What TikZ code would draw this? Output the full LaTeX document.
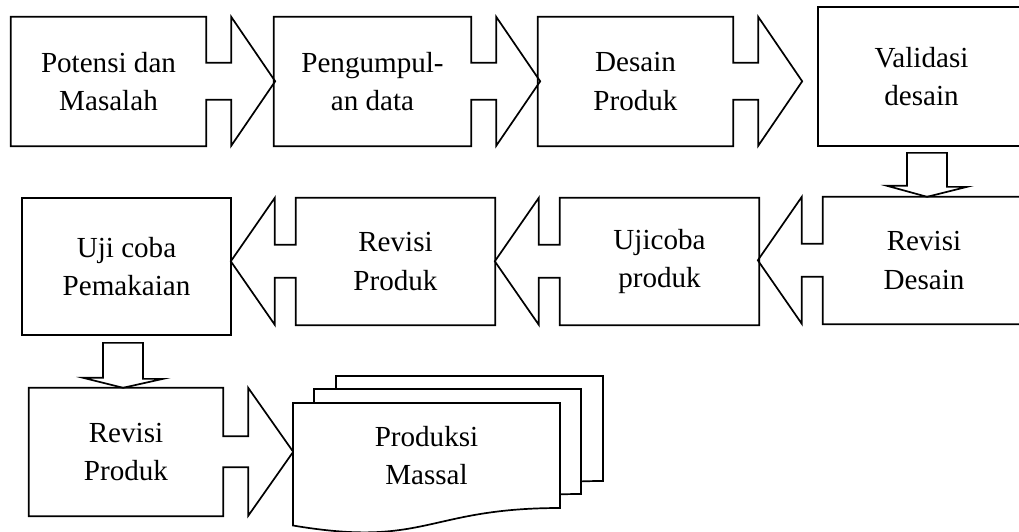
\documentclass[tikz,border=0pt]{standalone}
\usepackage{fontspec}
\setmainfont{Liberation Serif}
\usetikzlibrary{calc}

\begin{document}
\begin{tikzpicture}[x=1pt, y=-1pt,
    stagebox/.style={minimum width=195pt, minimum height=129pt, inner sep=0pt, align=center,
      font=\fontsize{29.1}{38.3}\selectfont},
    outline/.style={draw=black, line width=1.7pt, line join=miter}]
    \useasboundingbox (0,0) rectangle (1019,531);
    \clip (0,0) rectangle (1019,531);
    \fill[white] (0,0) rectangle (1019,531);

    \node[stagebox] (potensi) at (108.5,81.5) {Potensi dan\\Masalah};
    \node[stagebox, minimum width=197pt] (pengumpulan) at (372.5,81.5) {Pengumpul-\\an data};
    \node[stagebox] (desain) at (635.5,81.5) {Desain\\Produk};
    \node[stagebox, outline, minimum width=207pt, minimum height=139pt] (validasi) at (921.5,76.5) {Validasi\\desain};

    \foreach \n in {potensi, pengumpulan, desain}
        \draw[outline] (\n.north west) -- (\n.north east) -- ++(0,46) -- ++(25,0) -- ++(0,-46)
            -- ++(44,64.5) -- ++(-44,64.5) -- ++(0,-46) -- ++(-25,0) -- (\n.south east) -- (\n.south west) -- cycle;

    \node[stagebox, minimum width=202pt, minimum height=127pt] (revdesain) at (924,260.5) {Revisi\\Desain};
    \node[stagebox, minimum width=199pt, minimum height=127pt] (ujicoba) at (659.5,261.5) {Ujicoba\\produk};
    \node[stagebox, minimum width=199pt, minimum height=127pt] (revproduk) at (395.5,261.5) {Revisi\\Produk};
    \node[stagebox, outline, minimum width=209pt, minimum height=137pt] (pemakaian) at (126.5,266.5) {Uji coba\\Pemakaian};

    \foreach \n in {revdesain, ujicoba, revproduk}
        \draw[outline] (\n.north east) -- (\n.north west) -- ++(0,47) -- ++(-21,0) -- ++(0,-47)
            -- ++(-44,63.5) -- ++(44,63.5) -- ++(0,-47) -- ++(21,0) -- (\n.south west) -- (\n.south east) -- cycle;

    \node[stagebox, minimum width=194pt, minimum height=128pt] (revproduk2) at (126,452) {Revisi\\Produk};
    \draw[outline] (revproduk2.north west) -- (revproduk2.north east) -- ++(0,48.5) -- ++(25,0) -- ++(0,-48.5)
        -- ++(45,64) -- ++(-45,64) -- ++(0,-48.5) -- ++(-25,0) -- (revproduk2.south east) -- (revproduk2.south west) -- cycle;

    \foreach \dx/\dy in {43/-27, 21/-14, 0/0}
        \draw[outline, fill=white, shift={(\dx,\dy)}] (293,403) -- (560,403) -- (560,508)
            .. controls (426.5,508) and (426.5,548) .. (293,525.5) -- cycle;
    \node[stagebox, minimum width=267pt, minimum height=105pt] (massal) at (426.5,455.5) {Produksi\\Massal};

    \draw[outline] ($(validasi.south)+(-14.5,6)$) -- ++(40,0) -- ++(0,34) -- ++(20,0)
        -- ($(revdesain.north)+(3,0)$) -- ++(-40,-11) -- ++(20,0) -- cycle;
    \draw[outline] ($(pemakaian.south)+(-23.5,7)$) -- ++(40,0) -- ++(0,36) -- ++(20,0)
        -- ($(revproduk2.north)+(-3,0)$) -- ++(-40,-10) -- ++(20,0) -- cycle;
\end{tikzpicture}
\end{document}
